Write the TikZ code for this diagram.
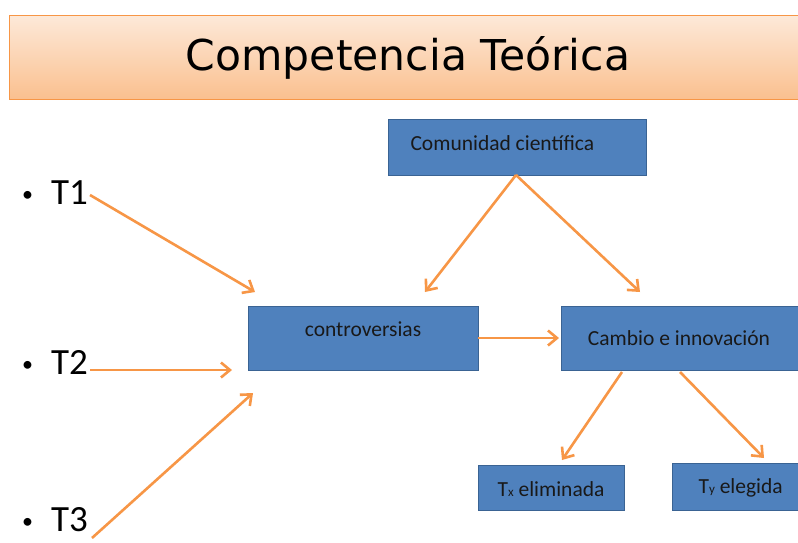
\documentclass[tikz,border=0pt]{standalone}
\usepackage{fontspec}
\setmainfont{Carlito}
\newfontfamily\titlefont{DejaVu Sans}
\usetikzlibrary{arrows.meta}
\definecolor{boxfill}{HTML}{4F81BD}
\definecolor{boxline}{HTML}{3A6393}
\definecolor{arr}{HTML}{F79646}
\definecolor{ttop}{HTML}{FDE9D9}
\definecolor{tbot}{HTML}{FAC08F}
\tikzset{
  bluebox/.style={draw=boxline, line width=0.9pt, fill=boxfill, minimum width=#1, inner sep=0pt, text=black!90},
  conn/.style={draw=arr, line width=2.6pt, -{Straight Barb[length=9pt,width=15pt,line width=2.6pt]}},
  bul/.style={anchor=base west, font=\fontsize{37}{40}\selectfont, inner sep=0pt},
  btxt/.style={font=\fontsize{21.5}{24}\selectfont, text=black!90}
}
\begin{document}
\begin{tikzpicture}[x=1pt,y=-1pt]
\useasboundingbox (0,0) rectangle (798,542);
\fill[white] (0,0) rectangle (798,542);
% title
\shade[top color=ttop, bottom color=tbot, draw=arr, line width=1pt] (9,15) rectangle (805,99);
\node[font=\titlefont\fontsize{42.5}{46}\selectfont, anchor=center] (title) at (408,58) {Competencia Teórica};
% boxes
\node[bluebox=258pt, minimum height=56pt, anchor=north west] (com) at (388,119) {};
\node[btxt, anchor=west] (comt) at (407,143) {Comunidad científica};
\node[bluebox=230pt, minimum height=64pt, anchor=north west] (con) at (248,306) {};
\node[btxt, anchor=center] (cont) at (363,329) {controversias};
\node[bluebox=240pt, minimum height=64pt, anchor=north west] (cam) at (561,306) {};
\node[btxt, anchor=center] (camt) at (679,338) {Cambio e innovación};
\node[bluebox=146pt, minimum height=45pt, anchor=north west] (tx) at (478,465) {};
\node[btxt, anchor=center] (txt) at (551,489) {T{\fontsize{13}{14}\selectfont x} eliminada};
\node[bluebox=130pt, minimum height=47pt, anchor=north west] (ty) at (672,463) {};
\node[btxt, anchor=west] (tyt) at (695,488) {T{\fontsize{13}{14}\selectfont y} elegida};
% bullets
\node[bul] (t1) at (22,204) {{\fontsize{22}{24}\selectfont\raisebox{3pt}{\textbullet}}\hspace{18pt}T1};
\node[bul] (t2) at (22,374) {{\fontsize{22}{24}\selectfont\raisebox{3pt}{\textbullet}}\hspace{18pt}T2};
\node[bul] (t3) at (22,531) {{\fontsize{22}{24}\selectfont\raisebox{3pt}{\textbullet}}\hspace{18pt}T3};
% free ends
\coordinate (a1) at (90,195);
\coordinate (a1e) at (255,292);
\coordinate (a2) at (90,370);
\coordinate (a2e) at (232,370);
\coordinate (a3) at (92,538);
\coordinate (a3e) at (253,393);
\coordinate (cb) at (516,175);
\coordinate (c1e) at (425,292);
\coordinate (c2e) at (640,292);
\coordinate (conr) at (478,338);
\coordinate (caml) at (559,338);
\coordinate (cam1) at (622,372);
\coordinate (cam2) at (680,372);
\coordinate (txe) at (562,460);
\coordinate (tye) at (764,458);
% connectors
\draw[conn] (a1) -- (a1e);
\draw[conn] (a2) -- (a2e);
\draw[conn] (a3) -- (a3e);
\draw[conn] (cb) -- (c1e);
\draw[conn] (cb) -- (c2e);
\draw[conn] (conr) -- (caml);
\draw[conn] (cam1) -- (txe);
\draw[conn] (cam2) -- (tye);
\end{tikzpicture}
\end{document}
